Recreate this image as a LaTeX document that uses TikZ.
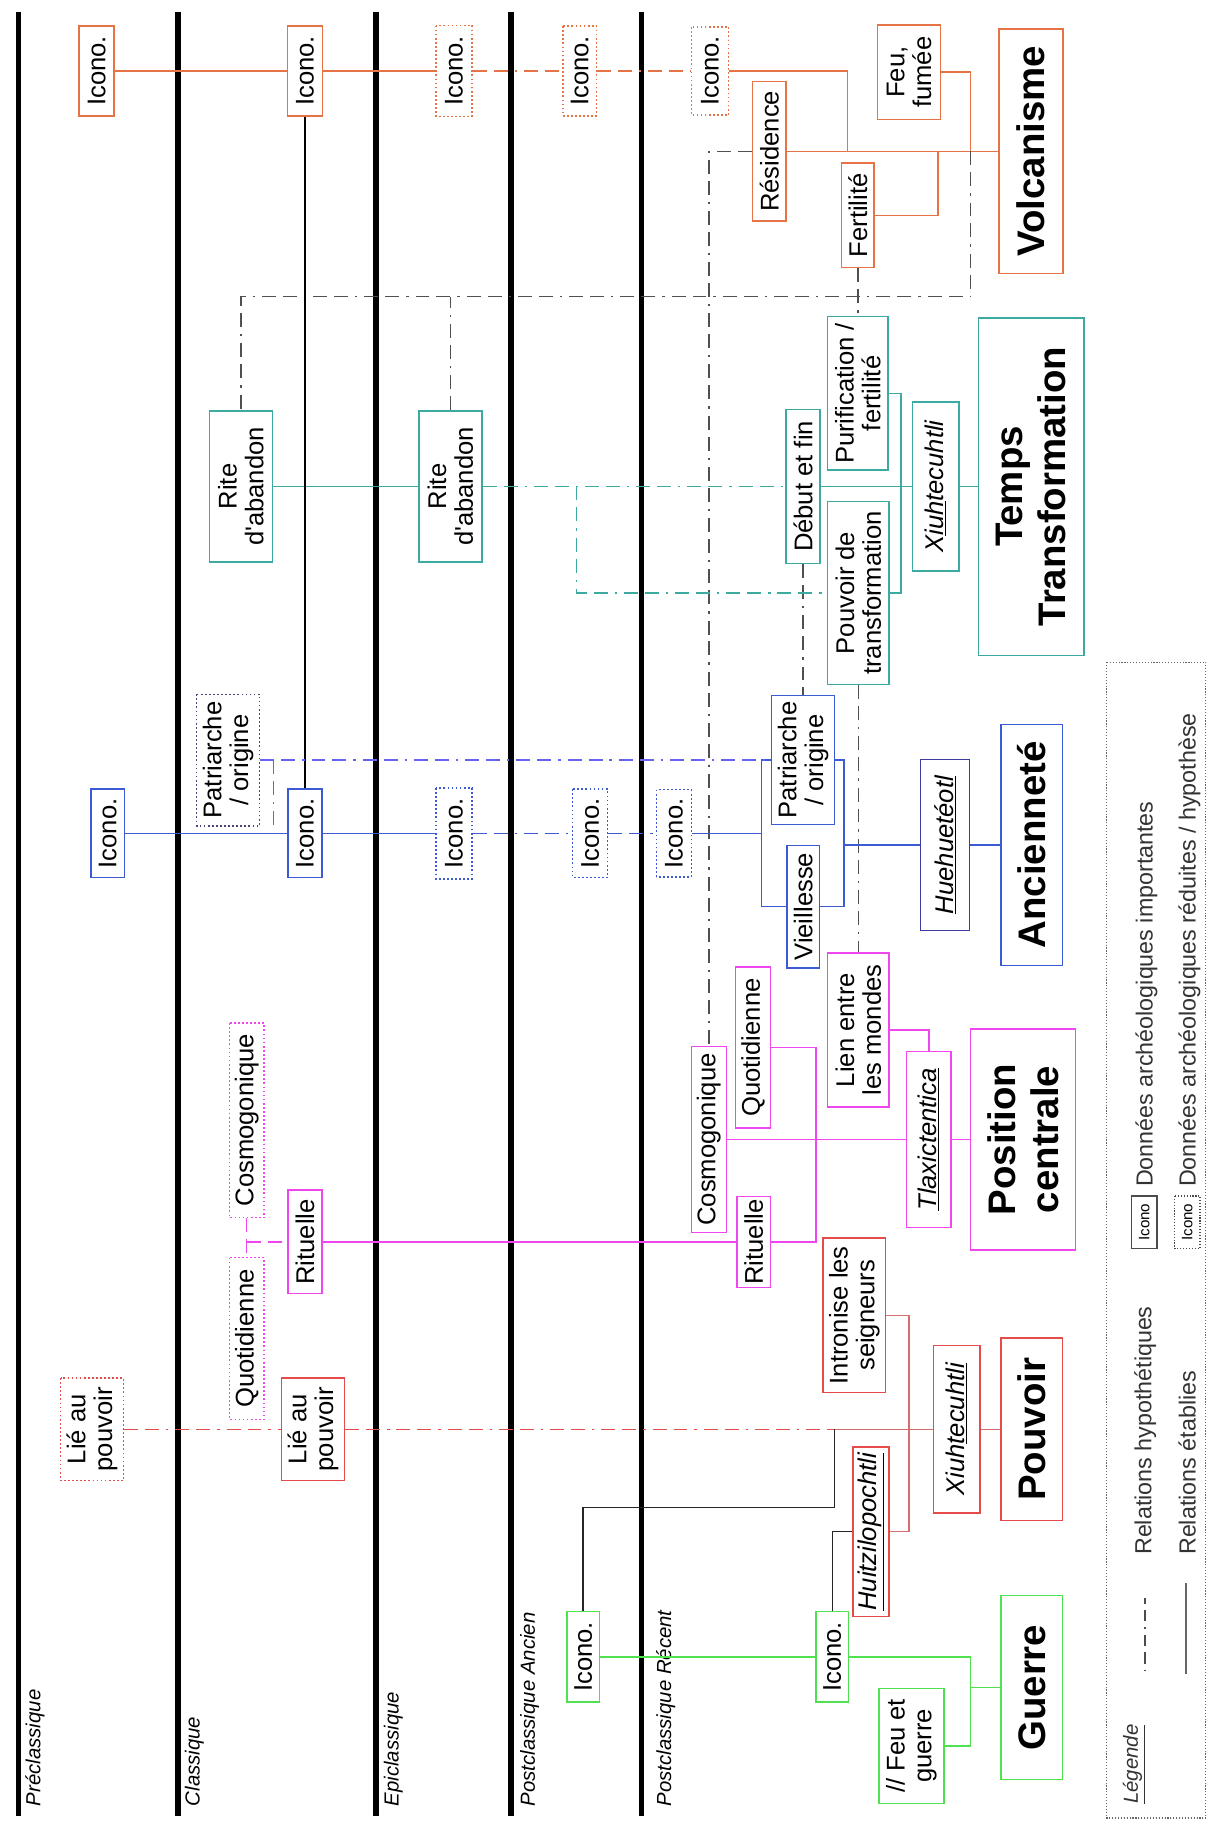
\documentclass[tikz,border=0pt]{standalone}
\usepackage{fontspec}
\setmainfont{Liberation Sans}[Ligatures=NoCommon]
\definecolor{cOr}{RGB}{230,115,70}
\definecolor{cTe}{RGB}{60,170,160}
\definecolor{cBl}{RGB}{60,90,210}
\definecolor{cBlD}{RGB}{100,100,240}
\definecolor{cNv}{RGB}{60,60,160}
\definecolor{cPd}{RGB}{70,70,120}
\definecolor{cMg}{RGB}{240,70,240}
\definecolor{cRd}{RGB}{230,75,75}
\definecolor{cRl}{RGB}{210,110,110}
\definecolor{cGr}{RGB}{80,225,80}
\definecolor{cGy}{RGB}{80,80,80}
\tikzset{
 nb/.style={rotate=90, draw, inner sep=0pt, align=center, line width=1.3pt, fill=white,
   font=\fontsize{22}{23}\selectfont},
 sz/.style 2 args={minimum height=#1, minimum width=#2},
 dotb/.style={dash pattern=on 1.5pt off 2pt},
 ttl/.style={nb, font=\fontsize{33}{37}\selectfont\bfseries},
 con/.style={line width=1.2pt},
 ddash/.style={dash pattern=on 12pt off 6pt on 12pt off 6pt on 2pt off 6pt},
 per/.style={line width=4.5pt},
 plab/.style={rotate=90, anchor=west, inner sep=0pt, font=\fontsize{17.5}{19}\selectfont\itshape},
 leg/.style={rotate=90, anchor=west, inner sep=0pt, font=\fontsize{20}{22}\selectfont, text=black!80},
 legbox/.style={rotate=90, draw=black!70, inner sep=0pt, line width=1pt, font=\fontsize{13}{14}\selectfont,
   minimum height=22pt, minimum width=45pt}
}
\begin{document}
\begin{tikzpicture}[x=1pt,y=1pt]
\fill[white] (0,0) rectangle (1038,-1568);
\useasboundingbox (0,0) rectangle (1038,-1568);
% period lines
\foreach \xx in {16,153,323,439,551} \draw[per] (\xx,-10) -- (\xx,-1560);
\node[plab] (lpre) at (30,-1552) {Préclassique};
\node[plab] (lcla) at (167,-1552) {Classique};
\node[plab] (lepi) at (338,-1552) {Epiclassique};
\node[plab] (lpa) at (455,-1552) {Postclassique Ancien};
\node[plab] (lpr) at (572,-1552) {Postclassique Récent};

% ---------- Volcanisme (orange)
\node[nb, draw=cOr, sz={30pt}{77pt}] (oI1) at (83,-61) {Icono.};
\node[nb, draw=cOr, sz={30pt}{77pt}] (oI2) at (262,-61) {Icono.};
\node[nb, draw=cOr, dotb, sz={31pt}{78pt}] (oI3) at (390,-61) {Icono.};
\node[nb, draw=cOr, dotb, sz={29pt}{77pt}] (oI4) at (498,-61) {Icono.};
\node[nb, draw=cOr, dotb, sz={32pt}{76pt}] (oI5) at (610,-61) {Icono.};
\node[nb, draw=cOr, sz={29pt}{120pt}] (oRes) at (661,-130) {Résidence};
\node[nb, draw=cOr, sz={54pt}{81pt}] (oFeu) at (781,-62) {Feu,\\fumée};
\node[nb, draw=cOr, sz={28pt}{90pt}] (oFer) at (737,-185) {Fertilité};
\node[ttl, draw=cOr, sz={55pt}{210pt}] (oVol) at (886,-130) {Volcanisme};

% ---------- Temps Transformation (teal)
\node[nb, draw=cTe, sz={54pt}{130pt}] (rA1) at (207,-418) {Rite\\d\textquotesingle abandon};
\node[nb, draw=cTe, sz={54pt}{130pt}] (rA2) at (387,-418) {Rite\\d\textquotesingle abandon};
\node[nb, draw=cTe, sz={29pt}{132pt}] (tDeb) at (690,-418) {Début et fin};
\node[nb, draw=cTe, sz={52pt}{132pt}] (tPur) at (737,-338) {Purification /\\fertilité};
\node[nb, draw=cTe, sz={53pt}{157pt}] (tPou) at (737.5,-509.5) {Pouvoir de\\transformation};
\node[nb, draw=cTe, sz={40pt}{145pt}] (tXiu) at (804,-418) {\itshape X\underline{iuh}tecuhtli};
\node[ttl, draw=cTe, sz={91pt}{290pt}] (tTT) at (886,-418) {Temps\\Transformation};

% ---------- Ancienneté (blue)
\node[nb, draw=cBl, sz={29pt}{76pt}] (bI1) at (92.5,-716) {Icono.};
\node[nb, draw=cPd, dotb, sz={54pt}{113pt}] (bPat1) at (196,-653) {Patriarche\\/ origine};
\node[nb, draw=cBl, sz={29pt}{76pt}] (bI2) at (262,-716) {Icono.};
\node[nb, draw=cBl, dotb, sz={31pt}{78pt}] (bI3) at (390,-716) {Icono.};
\node[nb, draw=cBl, dotb, sz={30pt}{76pt}] (bI4) at (507,-716) {Icono.};
\node[nb, draw=cBl, dotb, sz={30pt}{75pt}] (bI5) at (579,-716) {Icono.};
\node[nb, draw=cBl, sz={54pt}{111pt}] (bPat2) at (690,-653) {Patriarche\\/ origine};
\node[nb, draw=cBl, sz={28pt}{105pt}] (bVie) at (690,-779) {Vieillesse};
\node[nb, draw=cNv, sz={42pt}{147pt}] (bHue) at (812,-726) {\itshape\underline{Huehuetéotl}};
\node[ttl, draw=cBl, sz={53pt}{207pt}] (bAnc) at (886.5,-726) {Ancienneté};

% ---------- Position centrale (magenta)
\node[nb, draw=cMg, dotb, sz={30pt}{167pt}] (pCos1) at (212,-962.5) {Cosmogonique};
\node[nb, draw=cMg, dotb, sz={30pt}{139pt}] (pQuo1) at (212,-1150) {Quotidienne};
\node[nb, draw=cMg, sz={29pt}{89pt}] (pRit1) at (262,-1067) {Rituelle};
\node[nb, draw=cMg, sz={30pt}{160pt}] (pCos2) at (609,-979) {Cosmogonique};
\node[nb, draw=cMg, sz={30pt}{138pt}] (pQuo2) at (647,-900) {Quotidienne};
\node[nb, draw=cMg, sz={29pt}{78pt}] (pRit2) at (647.5,-1067) {Rituelle};
\node[nb, draw=cMg, sz={53pt}{132pt}] (pLien) at (737.5,-885) {Lien entre\\les mondes};
\node[nb, draw=cMg, sz={38pt}{151pt}] (pTla) at (798,-979) {\itshape\underline{Tlaxictentica}};
\node[ttl, draw=cMg, sz={90pt}{190pt}] (pPC) at (879,-979) {Position\\centrale};

% ---------- Pouvoir (red)
\node[nb, draw=cRd, dotb, sz={54pt}{88pt}] (rL1) at (79,-1228) {Lié au\\pouvoir};
\node[nb, draw=cRd, sz={54pt}{88pt}] (rL2) at (269,-1228) {Lié au\\pouvoir};
\node[nb, draw=cRd, sz={54pt}{133pt}] (rInt) at (734,-1130) {Intronise les\\seigneurs};
\node[nb, draw=cRd, sz={31pt}{146pt}] (rHui) at (748.5,-1316) {\itshape\underline{Huitzilopochtli}};
\node[nb, draw=cRd, sz={40pt}{144pt}] (rXiu) at (822,-1228) {\itshape Xiuh\underline{tecuhtli}};
\node[ttl, draw=cRd, sz={53pt}{157pt}] (rPou) at (886.5,-1228) {Pouvoir};

% ---------- Guerre (green)
\node[nb, draw=cGr, sz={28pt}{78pt}] (gI1) at (501,-1423.5) {Icono.};
\node[nb, draw=cGr, sz={28pt}{78pt}] (gI2) at (715,-1423.5) {Icono.};
\node[nb, draw=cGr, sz={56pt}{99pt}] (gFeu) at (783,-1500) {// Feu et\\guerre};
\node[ttl, draw=cGr, sz={53pt}{158pt}] (gGue) at (886.5,-1450) {Guerre};

% ---------- connectors: orange
\coordinate (jO1) at (728,-130);
\coordinate (jO2) at (806,-130);
\coordinate (jO3) at (834,-130);
\draw[con,cOr] (oI1.south) -- (oI2.north);
\draw[con,cOr] (oI2.south) -- (oI3.north);
\draw[con,cOr,ddash] (oI3.south) -- (oI4.north);
\draw[con,cOr,ddash] (oI4.south) -- (oI5.north);
\draw[con,cOr] (oI5.south) -| (jO1);
\draw[con,cOr] (oRes.south) -- (oVol.north);
\draw[con,cOr] (oFer.south) -| (jO2);
\draw[con,cOr] (oFeu.south) -| (jO3);

% grey hypothetical links
\coordinate (g1) at (207,-255);
\draw[con,cGy,ddash] (jO3) |- (g1) -- (rA1.east);
\draw[con,cGy,ddash] (rA2.east) -- (rA2.east |- g1);
\draw[con,cGy,ddash] (oFer.west) -- (tPur.east);
\draw[con,cGy,ddash] (oRes.north) -| (pCos2.east);
\draw[con,cGy,ddash] (tDeb.west) -- (bPat2.east);
\draw[con,cGy,ddash] (tPou.west) -- (pLien.east);

% teal
\coordinate (tJ) at (774,-418);
\coordinate (tL) at (495.5,-418);
\draw[con,cTe] (rA1.south) -- (rA2.north);
\draw[con,cTe,ddash] (rA2.south) -- (tDeb.north);
\draw[con,cTe] (tDeb.south) -- (tXiu.north);
\draw[con,cTe] (tXiu.south) -- (tTT.north);
\draw[con,cTe] (tPur.south) -| (tJ) |- (tPou.south);
\draw[con,cTe,ddash] (tL) |- (tPou.north);

% black
\draw[con,black] (oI2.west) -- (bI2.east);

% blue
\coordinate (bJ1) at (654,-716);
\coordinate (bJ2) at (725,-726);
\coordinate (bS1) at (235,-653);
\coordinate (bS2) at (235,-711);
\draw[con,cBl] (bI1.south) -- (bI2.north);
\draw[con,cBl] (bI2.south) -- (bI3.north);
\draw[con,cBl,ddash] (bI3.south) -- (bI4.north);
\draw[con,cBl,ddash] (bI4.south) -- (bI5.north);
\draw[con,cBl] (bI5.south) -- (bJ1);
\draw[con,cBl] (bPat2.north) -| (bJ1) |- (bVie.north);
\draw[con,cBl] (bPat2.south) -| (bJ2) |- (bVie.south);
\draw[con,cBl] (bJ2) -- (bHue.north);
\draw[con,cBl] (bHue.south) -- (bAnc.north);
\draw[con,cBlD,ddash] (bPat1.south) -- (bPat2.north);
\draw[con,cBlD,ddash] (bS1) -- (bS2);

% magenta
\coordinate (pJ) at (212,-1067);
\coordinate (pJ2) at (701,-1067);
\draw[con,cMg,ddash] (pCos1.west) -- (pQuo1.east);
\draw[con,cMg,ddash] (pJ) -- (pRit1.north);
\draw[con,cMg] (pRit1.south) -- (pRit2.north);
\draw[con,cMg] (pCos2.south) -- (pTla.north);
\draw[con,cMg] (pTla.south) -- (pPC.north);
\draw[con,cMg] (pQuo2.south) -| (pJ2) -- (pRit2.south);
\draw[con,cMg] (pLien.south) -| (pTla.east);

% red
\coordinate (rJ) at (717,-1228);
\coordinate (rJ2) at (781,-1228);
\coordinate (bk1) at (717,-1295);
\draw[con,cRd,ddash] (rL1.south) -- (rL2.north);
\draw[con,cRd,ddash] (rL2.south) -- (rJ);
\draw[con,cRl] (rJ) -- (rXiu.north);
\draw[con,cRl] (rXiu.south) -- (rPou.north);
\draw[con,cRl] (rInt.south) -| (rJ2) |- (rHui.south);

% black links
\draw[con,black!85] (gI1.east) |- (bk1) -- (rJ);
\draw[con,black!85] (gI2.east) |- (rHui.north);

% green
\coordinate (gJ) at (834,-1450);
\draw[con,cGr] (gI1.south) -- (gI2.north);
\draw[con,cGr] (gI2.south) -| (gJ);
\draw[con,cGr] (gJ) -- (gGue.north);
\draw[con,cGr] (gFeu.south) -| (gJ);

% ---------- legend
\draw[black!60, line width=1pt, dash pattern=on 1pt off 1.5pt] (951,-569) rectangle (1036,-1562);
\node[leg, font=\fontsize{17.5}{19}\selectfont\itshape] (lgT) at (974,-1550) {\underline{Légende}};
\coordinate (ls1) at (984,-1436);
\coordinate (ls2) at (984,-1373);
\draw[black!70, line width=1.5pt, dash pattern=on 1.5pt off 5pt on 10pt off 5pt on 10pt off 5pt] (ls1) -- (ls2);
\node[leg] (lg1) at (984,-1336) {Relations hypothétiques};
\coordinate (ls3) at (1019,-1438);
\coordinate (ls4) at (1019,-1360);
\draw[black!60, line width=2.2pt] (ls3) -- (ls4);
\node[leg] (lg2) at (1020,-1336) {Relations établies};
\node[legbox] (lb1) at (983,-1050) {Icono};
\node[leg] (lg3) at (985,-1020) {Données archéologiques importantes};
\node[legbox, dash pattern=on 1pt off 1.5pt] (lb2) at (1020,-1050) {Icono};
\node[leg] (lg4) at (1022,-1020) {Données archéologiques réduites / hypothèse};
\end{tikzpicture}
\end{document}
